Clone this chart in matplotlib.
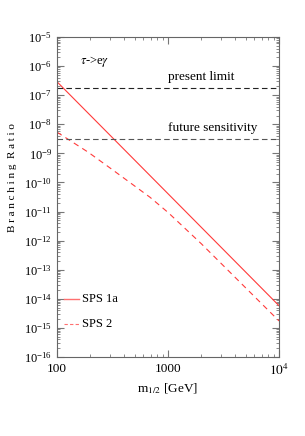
import numpy as np
import matplotlib
matplotlib.use("Agg")
import matplotlib.pyplot as plt
from matplotlib.ticker import LogLocator, FixedLocator, FixedFormatter, LogFormatterMathtext, NullFormatter

plt.rcParams['font.family'] = ['Liberation Serif', 'DejaVu Serif']
plt.rcParams['mathtext.fontset'] = 'stix'

# data
m_sps1a = [100, 10000]
br_sps1a = [2.9e-7, 5.8e-15]

m_sps2 = [100, 191, 300, 500, 689, 1000, 2000, 5000, 10000]
log_br_sps2 = [-8.27, -8.96, -9.50, -10.12, -10.51, -11.03, -12.11, -13.62, -14.76]
br_sps2 = [10**v for v in log_br_sps2]

present_limit = 1.75e-7
future_sens = 3.2e-9

fig = plt.figure(figsize=(3.05, 4.36), dpi=100)
ax = fig.add_axes([57/305, 1 - 357/436, 222/305, 320/436])

ax.set_xscale('log')
ax.set_yscale('log')
ax.set_xlim(100, 1e4)
ax.set_ylim(1e-16, 1e-5)

red = '#ff3a3a'
ax.plot(m_sps1a, br_sps1a, color=red, lw=0.8)
ax.plot(m_sps2, br_sps2, color=red, lw=0.8, dashes=(5, 4))

ax.axhline(present_limit, color='#222222', lw=0.8, dashes=(5, 3))
ax.axhline(future_sens, color='#555555', lw=0.8, dashes=(5, 3))

ax.text(1000, 2.6e-7, 'present limit', fontsize=9.5, va='bottom')
ax.text(1000, 4.8e-9, 'future sensitivity', fontsize=9.5, va='bottom')
ax.text(160, 1.4e-6, r'$\tau$->e$\gamma$', fontsize=9, va='center')

# legend drawn by hand like the original
ax.plot([115, 158], [1e-14, 1e-14], color='#ff7070', lw=1.0)
ax.plot([115, 158], [1.4e-15, 1.4e-15], color='#ff7070', lw=0.8, dashes=(3, 2))
ax.text(168, 1e-14, 'SPS 1a', fontsize=9, va='center')
ax.text(168, 1.4e-15, 'SPS 2', fontsize=9, va='center')

ax.yaxis.set_major_locator(FixedLocator([10.0**k for k in range(-16, -4)]))
ax.yaxis.set_major_formatter(LogFormatterMathtext())
ax.yaxis.set_minor_locator(LogLocator(base=10, subs=np.arange(2, 10), numticks=30))
ax.yaxis.set_minor_formatter(NullFormatter())

ax.xaxis.set_major_locator(FixedLocator([100, 1000, 10000]))
ax.xaxis.set_major_formatter(FixedFormatter(['100', '1000', r'$10^4$']))
ax.xaxis.set_minor_locator(LogLocator(base=10, subs=np.arange(2, 10), numticks=10))
ax.xaxis.set_minor_formatter(NullFormatter())

ax.tick_params(which='both', direction='in', top=True, right=True, color='#777777', labelsize=9.5)
ax.tick_params(axis='y', labelsize=9)
ax.tick_params(which='major', length=5, width=0.8)
ax.tick_params(which='minor', length=2.5, width=0.6)
ax.tick_params(axis='x', pad=4)
for s in ax.spines.values():
    s.set_color('#666666')
    s.set_linewidth(0.8)

ax.set_xlabel(r'm$_{1/2}$ [GeV]', fontsize=9.5, labelpad=3)
ax.set_ylabel('B r a n c h i n g  R a t i o', fontsize=8)
ax.yaxis.set_label_coords(-0.18, 0.56)

fig.savefig('out.png', dpi=100)
